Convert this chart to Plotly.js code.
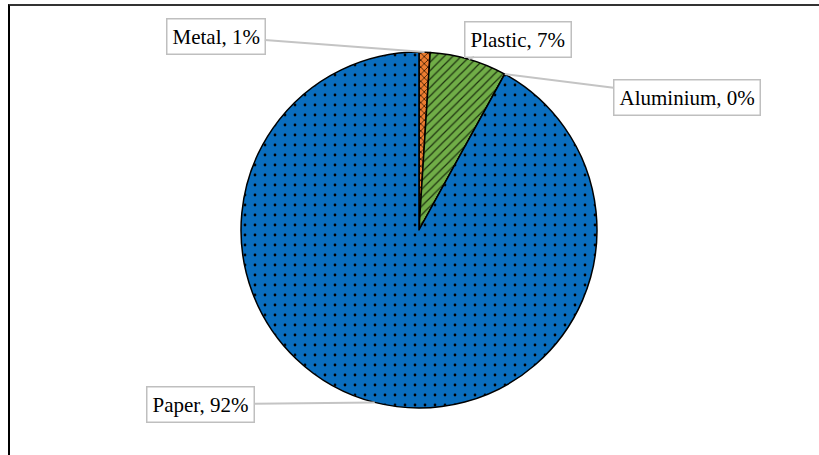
<!DOCTYPE html>
<html>
<head>
<meta charset="utf-8">
<script src="https://cdn.plot.ly/plotly-3.0.1.min.js"></script>
<style>
  html, body { margin: 0; padding: 0; background: #fff; }
  #wrap { position: relative; width: 819px; height: 455px; overflow: hidden; }
  #chart { width: 819px; height: 455px; }
  #frame { position: absolute; left: 8px; top: 4px; width: 900px; height: 600px;
           border-left: 2px solid #000; border-top: 2px solid #333; pointer-events: none; }
</style>
</head>
<body>
<div id="wrap"><div id="chart"></div><div id="frame"></div></div>
<script>
// ---- data ----
const categories = ["Metal", "Plastic", "Aluminium", "Paper"];
const values = [1, 7, 0, 92];
const labelTexts = ["Metal, 1%", "Plastic, 7%", "Aluminium, 0%", "Paper, 92%"];

// ---- styles ----
const bgColors = ["#ED7D31", "#70AD47", "#A5A5A5", "#0A6EBF"];
const fgColors = ["#3a1a00", "#1e3310", "#333333", "#000000"];
const shapes = ["x", "/", "", "."];
const sizes = [5, 6, 6, 10];
const solidity = [0.3, 0.2, 0.3, 0.06];
// label offsets (px) from slice-edge anchor to label centre
const offX = [-209, 49, 182, -174];
const offY = [-16, -20, 23, 2];

const W = 819, H = 455;
const domX = [0.2943, 0.7289];
const domY = [0.1033, 0.8857];

const cx = (domX[0] + domX[1]) / 2 * W;
const cy = H * (1 - (domY[0] + domY[1]) / 2);
const r = Math.min((domX[1] - domX[0]) * W, (domY[1] - domY[0]) * H) / 2;

const total = values.reduce((a, b) => a + b, 0);
let cum = 0;
const annotations = categories.map((c, i) => {
  const frac = (cum + values[i] / 2) / total;
  cum += values[i];
  const ang = frac * 2 * Math.PI;
  const px = cx + r * Math.sin(ang);
  const py = cy - r * Math.cos(ang);
  return {
    xref: "paper", yref: "paper",
    x: px / W, y: 1 - py / H,
    ax: offX[i], ay: offY[i],
    text: labelTexts[i],
    showarrow: true, arrowhead: 0, arrowwidth: 2, arrowcolor: "#c4c4c4",
    standoff: 0,
    bgcolor: "#ffffff", bordercolor: "#bfbfbf", borderwidth: 1.5, borderpad: 5,
    font: { family: "Liberation Serif, Times New Roman, serif", size: 21, color: "#000" }
  };
});

const trace = {
  type: "pie",
  labels: categories,
  values: values,
  sort: false,
  direction: "clockwise",
  rotation: 0,
  textinfo: "none",
  hoverinfo: "label+percent",
  domain: { x: domX, y: domY },
  marker: {
    colors: bgColors,
    line: { color: "#000000", width: 1.5 },
    pattern: { shape: shapes, fgcolor: fgColors, bgcolor: bgColors, size: sizes, solidity: solidity }
  }
};

const layout = {
  width: W, height: H,
  margin: { l: 0, r: 0, t: 0, b: 0 },
  showlegend: false,
  paper_bgcolor: "#ffffff",
  annotations: annotations
};

Plotly.newPlot("chart", [trace], layout, { displayModeBar: false, staticPlot: true });
</script>
</body>
</html>
